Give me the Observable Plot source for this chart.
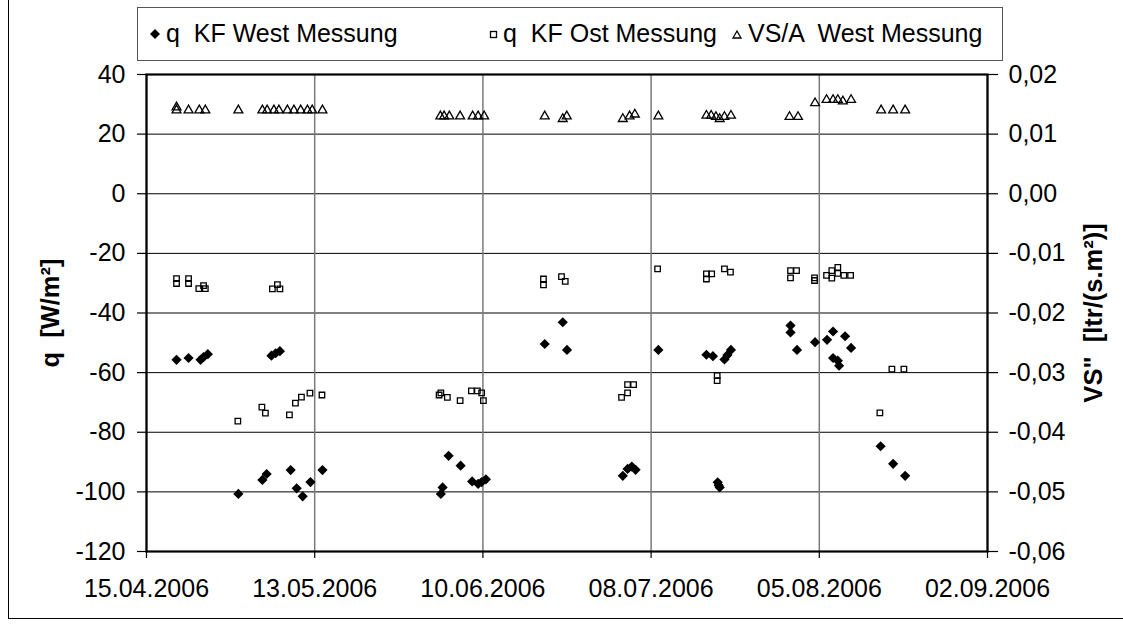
<!DOCTYPE html>
<html><head><meta charset="utf-8">
<script src="https://cdn.jsdelivr.net/npm/d3@7"></script>
<script src="https://cdn.jsdelivr.net/npm/@observablehq/plot@0.6"></script>
<style>
html,body{margin:0;padding:0;background:#fff;}
#wrap{position:relative;width:1123px;height:629px;overflow:hidden;font-family:"Liberation Sans",Arial,sans-serif;}
#border{position:absolute;left:8px;top:-2px;width:1200px;height:621px;border:1px solid #000;box-sizing:border-box;}
#legend{position:absolute;left:137px;top:7px;width:866px;height:54px;border:1px solid #555;box-sizing:border-box;background:#fff;
  font-size:25px;color:#000;white-space:pre;}
#legend .it{position:absolute;top:11px;line-height:29px;}
#legend svg{position:absolute;}
#chart{position:absolute;left:0;top:0;}
</style></head>
<body>
<div id="wrap">
  <div id="border"></div>
  <div id="chart"></div>
  <div id="legend">
    <svg style="left:10px;top:19px" width="14" height="14"><path d="M7,2L12,7L7,12L2,7Z" fill="#000"/></svg>
    <span class="it" style="left:28px">q  KF West Messung</span>
    <svg style="left:349px;top:20px" width="14" height="14"><rect x="3.5" y="3.5" width="6" height="6" fill="#fff" stroke="#000" stroke-width="1.3"/></svg>
    <span class="it" style="left:365px">q  KF Ost Messung</span>
    <svg style="left:592px;top:20px" width="14" height="14"><path d="M7,3L11,10H3Z" fill="none" stroke="#000" stroke-width="1.3"/></svg>
    <span class="it" style="left:610px">VS/A  West Messung</span>
  </div>
</div>
<script>
// ---- x axis tick labels (every 28 days) ----
const xTickLabels = ["15.04.2006","13.05.2006","10.06.2006","08.07.2006","05.08.2006","02.09.2006"];
// ---- left axis ticks q [W/m²] ----
const yTicks = [40,20,0,-20,-40,-60,-80,-100,-120];
// right axis: VS'' [ltr/(s.m²)] = q / 2000
const rightFactor = 2000;

// ---- q KF West Messung (filled diamonds) ----
const westDates = ["2006-04-20T00","2006-04-22T00","2006-04-24T00","2006-04-24T12","2006-04-25T05",
 "2006-04-30T07","2006-05-04T07","2006-05-05T00","2006-05-05T19","2006-05-06T12","2006-05-07T05",
 "2006-05-09T00","2006-05-10T00","2006-05-11T00","2006-05-12T07","2006-05-14T07",
 "2006-06-03T00","2006-06-03T07","2006-06-04T07","2006-06-06T07","2006-06-08T05","2006-06-09T05","2006-06-09T19","2006-06-10T12",
 "2006-06-20T07","2006-06-23T07","2006-06-24T00",
 "2006-07-03T07","2006-07-04T02","2006-07-04T19","2006-07-05T10","2006-07-09T05",
 "2006-07-17T05","2006-07-18T07","2006-07-19T02","2006-07-19T06","2006-07-19T10","2006-07-20T05","2006-07-20T17","2006-07-21T07",
 "2006-07-31T05","2006-07-31T05","2006-08-01T07","2006-08-04T07","2006-08-06T07","2006-08-07T07","2006-08-07T07",
 "2006-08-08T02","2006-08-08T07","2006-08-09T07","2006-08-10T07",
 "2006-08-15T05","2006-08-17T07","2006-08-19T07"];
const westQ = [-55.7,-55.1,-55.7,-54.8,-53.8,
 -100.7,-96,-94,-54.3,-53.5,-52.8,
 -92.7,-98.8,-101.5,-96.7,-92.7,
 -100.7,-98.5,-87.9,-91.2,-96.5,-97.3,-96.7,-95.8,
 -50.4,-43.1,-52.4,
 -94.6,-92.3,-91.5,-92.6,-52.4,
 -54,-54.5,-96.8,-97.8,-98.5,-55.6,-54.1,-52.4,
 -44.2,-46.5,-52.4,-49.8,-49,-46.2,-55.1,
 -56,-57.7,-47.8,-51.7,
 -84.7,-90.6,-94.6];

// ---- q KF Ost Messung (open squares) ----
const ostDates = ["2006-04-20T00","2006-04-20T00","2006-04-22T00","2006-04-22T00","2006-04-23T17","2006-04-24T12","2006-04-24T19",
 "2006-04-30T05","2006-05-04T05","2006-05-04T19","2006-05-05T23","2006-05-06T19","2006-05-07T05",
 "2006-05-08T19","2006-05-09T19","2006-05-10T19","2006-05-12T05","2006-05-14T05",
 "2006-06-02T17","2006-06-03T00","2006-06-04T02","2006-06-06T05","2006-06-08T02","2006-06-09T02","2006-06-09T19","2006-06-10T02",
 "2006-06-20T02","2006-06-20T02","2006-06-23T02","2006-06-23T17",
 "2006-07-03T02","2006-07-04T02","2006-07-04T02","2006-07-05T02","2006-07-09T02",
 "2006-07-17T05","2006-07-17T05","2006-07-18T02","2006-07-19T00","2006-07-19T00","2006-07-20T05","2006-07-21T05",
 "2006-07-31T05","2006-07-31T05","2006-08-01T05","2006-08-04T05","2006-08-04T05","2006-08-06T05",
 "2006-08-07T02","2006-08-07T02","2006-08-08T02","2006-08-08T02","2006-08-09T02","2006-08-10T05",
 "2006-08-15T02","2006-08-17T02","2006-08-19T02"];
const ostQ = [-28.5,-30.1,-28.5,-30.1,-31.8,-30.8,-31.8,
 -76.3,-71.6,-73.6,-31.9,-30.5,-31.9,
 -74.2,-70.2,-68.2,-66.9,-67.5,
 -67.5,-66.8,-68.3,-69.4,-66.1,-66.1,-66.8,-69.4,
 -28.6,-30.6,-27.8,-29.4,
 -68.3,-66.8,-64,-64,-25.2,
 -26.9,-28.6,-26.9,-61,-62.7,-25.2,-26.3,
 -25.8,-28.2,-25.8,-28.2,-29.1,-27.4,
 -28.3,-25.8,-24.7,-26.7,-27.4,-27.4,
 -73.5,-58.8,-58.8];

// ---- VS/A West Messung (open triangles), right axis [ltr/(s.m²)] ----
const vsDates = ["2006-04-20T00","2006-04-20T00","2006-04-22T00","2006-04-23T19","2006-04-24T19",
 "2006-04-30T07","2006-05-04T07","2006-05-05T02","2006-05-06T05","2006-05-07T01","2006-05-08T11","2006-05-09T13",
 "2006-05-10T16","2006-05-11T19","2006-05-12T14","2006-05-14T07",
 "2006-06-02T22","2006-06-03T13","2006-06-04T10","2006-06-06T05","2006-06-08T07","2006-06-09T05","2006-06-10T05",
 "2006-06-20T07","2006-06-23T07","2006-06-23T23",
 "2006-07-03T07","2006-07-04T10","2006-07-05T07","2006-07-09T05",
 "2006-07-17T05","2006-07-18T00","2006-07-18T19","2006-07-19T10","2006-07-20T05","2006-07-21T07",
 "2006-07-31T01","2006-08-01T11","2006-08-04T07","2006-08-06T05","2006-08-07T07","2006-08-08T02","2006-08-08T22","2006-08-10T07",
 "2006-08-15T07","2006-08-17T07","2006-08-19T07"];
const vsValues = [0.0145,0.0140,0.0140,0.0140,0.0140,
 0.0140,0.0140,0.0140,0.0140,0.0140,0.0140,0.0140,
 0.0140,0.0140,0.0140,0.0140,
 0.0130,0.0130,0.0130,0.0130,0.0130,0.0130,0.0130,
 0.0130,0.01255,0.0130,
 0.01255,0.0130,0.0133,0.0130,
 0.0131,0.0131,0.0129,0.01255,0.0129,0.0131,
 0.0129,0.0129,0.0152,0.01575,0.01575,0.01575,0.0155,0.01575,
 0.0140,0.0140,0.0140];

const parseT = s => new Date(s + ":00Z");
const west = westDates.map((d,i)=>({date: parseT(d), q: westQ[i]}));
const ost = ostDates.map((d,i)=>({date: parseT(d), q: ostQ[i]}));
const vs = vsDates.map((d,i)=>({date: parseT(d), v: vsValues[i]}));
const xTicks = xTickLabels.map(s => d3.utcParse("%d.%m.%Y")(s));

const fmtRight = d => (d/rightFactor).toFixed(2).replace(".", ",");

const chart = Plot.plot({
  width: 1123, height: 629,
  marginLeft: 146, marginRight: 136, marginTop: 74, marginBottom: 78,
  style: {fontFamily: "'Liberation Sans', Arial, sans-serif", fontSize: "25px", color: "#000", background: "transparent", overflow: "visible"},
  x: {type: "utc", domain: [xTicks[0], xTicks[xTicks.length-1]]},
  y: {domain: [-120, 40]},
  marks: [
    Plot.gridY(yTicks, {stroke: "#000", strokeOpacity: 1, strokeWidth: 1}),
    Plot.gridX(xTicks, {stroke: "#7a7a7a", strokeOpacity: 1, strokeWidth: 1.5}),
    Plot.axisY(yTicks, {anchor: "left", tickSize: 9, tickPadding: 12, tickFormat: d => String(d), label: null, strokeWidth: 1.2, fontSize: 25}),
    Plot.axisY(yTicks, {anchor: "right", tickSize: 10, tickPadding: 11, tickFormat: fmtRight, label: null, strokeWidth: 1.2, fontSize: 25}),
    Plot.axisX(xTicks, {anchor: "bottom", tickSize: 7, tickPadding: 21, tickFormat: d3.utcFormat("%d.%m.%Y"), label: null, strokeWidth: 1.2, fontSize: 25}),
    Plot.frame({stroke: "#000", strokeWidth: 2.2}),
    Plot.text(["q  [W/m²]"], {frameAnchor: "left", text: d => d, rotate: -90, dx: -96, textAnchor: "middle", fontWeight: "bold", fontSize: 25.5}),
    Plot.text(["VS\"  [ltr/(s.m²)]"], {frameAnchor: "right", text: d => d, rotate: -90, dx: 106, textAnchor: "middle", fontWeight: "bold", fontSize: 25.5}),
    Plot.dot(vs, {x: "date", y: d => d.v * rightFactor, symbol: "triangle", r: 3.3, stroke: "#000", strokeWidth: 1.3, fill: "none"}),
    Plot.dot(ost, {x: "date", y: "q", symbol: "square", r: 3.1, stroke: "#000", strokeWidth: 1.3, fill: "none"}),
    Plot.dot(west, {x: "date", y: "q", symbol: "diamond2", r: 4.6, fill: "#000", stroke: "none"})
  ]
});
document.getElementById("chart").appendChild(chart);
</script>
</body></html>
